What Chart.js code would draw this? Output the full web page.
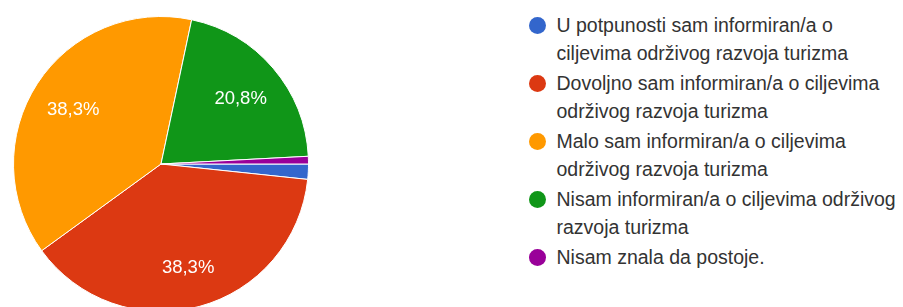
<!DOCTYPE html>
<html>
<head>
<meta charset="utf-8">
<script src="https://cdn.jsdelivr.net/npm/chart.js@4/dist/chart.umd.min.js"></script>
<style>
  html, body { margin: 0; padding: 0; width: 903px; height: 307px; overflow: hidden; background: #ffffff; }
  #pieBox { position: absolute; left: 13px; top: 16px; width: 296px; height: 296px; }
  #legend { position: absolute; left: 529px; top: 11px; font-family: "Liberation Sans", Arial, sans-serif; font-size: 19.5px; color: #333333; }
  .item { display: flex; align-items: flex-start; margin-bottom: 2px; }
  .dot { width: 17px; height: 17px; border-radius: 50%; margin-top: 5.5px; flex: 0 0 17px; }
  .txt { margin-left: 10.5px; line-height: 28px; white-space: nowrap; }
</style>
</head>
<body>
<div id="pieBox"><canvas id="c"></canvas></div>
<div id="legend"></div>
<script>
// Categories (each split into the lines shown in the legend)
const categories = [
  ["U potpunosti sam informiran/a o", "ciljevima održivog razvoja turizma"],
  ["Dovoljno sam informiran/a o ciljevima", "održivog razvoja turizma"],
  ["Malo sam informiran/a o ciljevima", "održivog razvoja turizma"],
  ["Nisam informiran/a o ciljevima održivog", "razvoja turizma"],
  ["Nisam znala da postoje."]
];
// Response counts (120 responses total)
const counts = [2, 46, 46, 25, 1];
const colors = ["#3366cc", "#dc3912", "#ff9900", "#109618", "#990099"];

function pctText(v, total) {
  return (v / total * 100).toFixed(1).replace('.', ',') + '%';
}

const sliceLabels = {
  id: 'sliceLabels',
  afterDatasetsDraw(chart) {
    const ctx = chart.ctx;
    const meta = chart.getDatasetMeta(0);
    const data = chart.data.datasets[0].data;
    const total = data.reduce((a, b) => a + b, 0);
    ctx.save();
    ctx.font = '18.5px "Liberation Sans", Arial, sans-serif';
    ctx.fillStyle = '#ffffff';
    ctx.textAlign = 'center';
    ctx.textBaseline = 'middle';
    meta.data.forEach((arc, i) => {
      if (data[i] / total < 0.05) return;
      const p = arc.getProps(['x', 'y', 'startAngle', 'endAngle', 'outerRadius'], true);
      const mid = (p.startAngle + p.endAngle) / 2;
      const r = p.outerRadius * 0.71;
      ctx.fillText(pctText(data[i], total), p.x + Math.cos(mid) * r, p.y + Math.sin(mid) * r + 3);
    });
    ctx.restore();
  }
};

const htmlLegend = {
  id: 'htmlLegend',
  afterUpdate(chart) {
    const box = document.getElementById('legend');
    box.innerHTML = '';
    const items = chart.options.plugins.legend.labels.generateLabels(chart);
    items.forEach((it, i) => {
      const row = document.createElement('div');
      row.className = 'item';
      const dot = document.createElement('div');
      dot.className = 'dot';
      dot.style.background = chart.data.datasets[0].backgroundColor[i];
      const txt = document.createElement('div');
      txt.className = 'txt';
      const lines = chart.data.labels[i];
      (Array.isArray(lines) ? lines : [lines]).forEach((ln, k) => {
        if (k) txt.appendChild(document.createElement('br'));
        txt.appendChild(document.createTextNode(ln));
      });
      row.appendChild(dot);
      row.appendChild(txt);
      box.appendChild(row);
    });
  }
};

new Chart(document.getElementById('c'), {
  type: 'pie',
  data: {
    labels: categories,
    datasets: [{
      data: counts,
      backgroundColor: colors,
      borderColor: '#ffffff',
      borderWidth: 1
    }]
  },
  options: {
    responsive: true,
    maintainAspectRatio: false,
    animation: false,
    rotation: 90,
    layout: { padding: 0 },
    plugins: {
      legend: { display: false },
      tooltip: { enabled: false }
    }
  },
  plugins: [sliceLabels, htmlLegend]
});
</script>
</body>
</html>
